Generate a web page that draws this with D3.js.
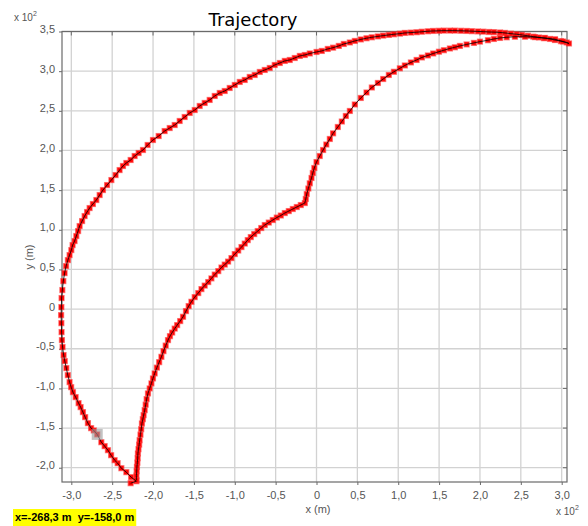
<!DOCTYPE html>
<html>
<head>
<meta charset="utf-8">
<script src="https://cdn.jsdelivr.net/npm/d3@7"></script>
<style>
  body { margin: 0; background: #fff; }
  svg { display: block; }
</style>
</head>
<body>
<div id="chart"></div>
<script>
// trajectory samples in metres
// outer arc: from the bottom start, up the left side and over the top to the right end
const outbound = [
  [-227.4,-219.5],[-220.4,-217.0],[-226.8,-211.9],[-232.7,-205.6],[-238.8,-200.6],[-243.3,-194.3],
  [-247.0,-190.5],[-251.3,-184.2],[-255.2,-177.9],[-259.2,-172.8],[-263.3,-167.8],[-268.3,-158.0],
  [-272.5,-153.0],[-275.8,-150.1],[-279.7,-143.8],[-283.1,-136.2],[-285.8,-129.9],[-288.6,-123.6],
  [-291.1,-118.6],[-294.7,-111.0],[-298.0,-104.7],[-300.2,-98.4],[-302.1,-92.1],[-304.3,-83.3],
  [-306.1,-74.4],[-308.0,-65.6],[-309.4,-58.0],[-310.7,-47.9],[-311.5,-39.1],[-311.9,-29.0],
  [-312.2,-17.7],[-312.5,-7.6],[-312.2,2.5],[-311.9,13.9],[-311.0,24.0],[-309.8,35.3],
  [-308.2,45.4],[-306.4,54.2],[-304.2,61.8],[-302.1,68.1],[-300.0,74.4],[-298.4,80.7],
  [-296.0,85.8],[-293.9,92.1],[-291.7,98.4],[-289.8,104.7],[-286.8,111.0],[-283.7,117.3],
  [-280.7,122.4],[-277.6,127.4],[-273.6,132.5],[-269.4,137.5],[-265.3,143.8],[-261.3,150.1],
  [-256.2,156.4],[-251.0,162.7],[-245.8,169.0],[-240.9,175.3],[-236.8,180.4],[-232.7,184.2],
  [-227.4,188.0],[-222.5,193.0],[-217.6,196.8],[-212.3,200.6],[-206.6,206.9],[-200.1,213.2],
  [-193.1,218.2],[-185.8,224.5],[-179.6,228.3],[-173.5,232.1],[-167.4,237.2],[-161.3,242.2],
  [-155.1,247.3],[-149.0,251.0],[-142.9,256.1],[-136.8,259.9],[-130.7,263.7],[-124.5,268.7],
  [-118.4,272.5],[-112.3,275.0],[-106.2,278.8],[-100.0,282.6],[-93.9,286.4],[-87.8,288.9],
  [-81.7,292.7],[-75.6,295.2],[-69.4,299.0],[-63.3,301.5],[-57.2,304.0],[-51.1,307.8],
  [-44.9,310.3],[-38.8,312.9],[-32.7,314.1],[-26.6,316.6],[-20.4,319.2],[-14.3,320.4],
  [-8.2,322.3],[0.0,324.2],[6.5,325.5],[13.8,328.0],[20.3,329.6],[27.3,331.8],
  [33.4,334.3],[40.8,336.2],[46.9,338.1],[54.2,340.0],[61.2,341.5],[67.7,342.7],
  [75.1,343.8],[81.6,344.8],[88.5,345.7],[94.7,346.5],[102.0,347.3],[108.1,348.2],
  [115.5,348.6],[122.5,349.1],[128.9,349.7],[136.3,350.3],[142.8,350.7],[149.8,350.9],
  [155.9,351.1],[163.2,351.1],[169.3,351.1],[176.7,350.9],[183.7,350.7],[190.2,350.4],
  [197.5,350.1],[204.0,349.8],[211.0,349.4],[217.1,349.2],[224.5,348.8],[230.6,348.2],
  [237.9,347.3],[244.9,346.5],[251.4,345.7],[258.7,344.6],[265.2,343.5],[272.2,342.5],
  [278.3,341.6],[285.7,340.6],[291.8,339.3],[299.1,337.8],[306.1,336.2],[308.9,334.9]
];

// inner arc: back from the right end, through the kink, down to the bottom
const inbound = [
  [301.6,337.4],[291.8,340.2],[279.6,341.9],[267.3,342.9],[255.1,343.4],[242.8,343.4],
  [232.7,342.7],[224.5,341.9],[217.1,340.6],[209.8,339.0],[200.0,337.2],[192.6,335.6],
  [183.7,333.7],[175.5,331.8],[169.3,330.1],[163.2,328.6],[155.9,326.4],[149.8,324.5],
  [142.8,322.3],[136.3,319.8],[128.9,317.3],[122.5,314.1],[115.5,311.0],[108.1,307.2],
  [102.0,303.6],[94.7,299.2],[88.5,295.2],[81.6,290.1],[75.1,285.1],[67.7,279.4],
  [61.2,273.1],[54.2,266.2],[46.9,258.0],[40.8,249.8],[35.9,243.5],[31.0,236.5],
  [26.1,229.6],[20.3,221.6],[16.3,214.5],[12.0,207.5],[8.1,200.6],[4.0,193.0],
  [0.0,185.4],[-2.7,177.9],[-4.5,171.6],[-6.1,165.3],[-8.2,158.6],[-10.0,152.0],
  [-11.9,145.1],[-13.1,138.8],[-14.3,133.7],[-19.2,131.2],[-24.1,128.7],[-29.0,126.2],
  [-33.9,123.6],[-38.8,121.1],[-43.7,118.0],[-48.6,115.4],[-53.5,112.3],[-58.4,109.1],
  [-63.3,106.0],[-67.6,102.2],[-71.9,98.4],[-76.2,94.6],[-80.4,90.8],[-84.1,87.0],
  [-87.8,82.6],[-91.8,78.2],[-95.8,73.8],[-100.0,69.4],[-104.1,64.3],[-108.2,59.9],
  [-112.3,56.1],[-116.3,52.4],[-120.2,47.9],[-124.5,43.5],[-128.6,38.7],[-132.5,34.1],
  [-136.8,29.6],[-140.8,25.2],[-144.7,20.2],[-149.0,15.1],[-153.1,9.2],[-156.4,3.8],
  [-159.7,-2.5],[-163.3,-9.7],[-166.8,-15.1],[-170.5,-20.2],[-173.5,-24.6],[-176.6,-29.6],
  [-179.3,-34.1],[-181.7,-39.1],[-184.5,-46.0],[-187.2,-53.0],[-189.8,-60.2],[-192.5,-66.9],
  [-195.3,-73.8],[-198.0,-81.1],[-200.1,-87.4],[-202.0,-93.7],[-204.1,-100.0],[-206.2,-106.3],
  [-207.8,-113.5],[-209.0,-120.5],[-210.2,-127.4],[-211.5,-133.7],[-212.5,-138.8],[-213.6,-144.2],
  [-214.5,-151.4],[-215.4,-158.3],[-216.4,-165.3],[-217.0,-170.9],[-217.8,-176.6],[-218.5,-182.0],
  [-218.8,-188.0],[-219.2,-193.6],[-219.7,-198.9],[-220.0,-204.4],[-220.3,-210.0],[-220.4,-215.7]
];

const cursorPoint = [-268.3, -158.0];
const xTickValues = [-300, -250, -200, -150, -100, -50, 0, 50, 100, 150, 200, 250, 300];
const yTickValues = [-200, -150, -100, -50, 0, 50, 100, 150, 200, 250, 300, 350];

const width = 588, height = 526;
const margin = { top: 31.5, right: 21, bottom: 44, left: 62 };

const svg = d3.select("#chart").append("svg")
  .attr("width", width)
  .attr("height", height);

const x = d3.scaleLinear()
  .domain([-311.4, 306.5])
  .range([margin.left, width - margin.right]);

const y = d3.scaleLinear()
  .domain([-218, 350])
  .range([height - margin.bottom, margin.top]);

// comma decimal, plain hyphen minus, values shown in units of 10^2 m
const loc = d3.formatLocale({ decimal: ",", thousands: ".", grouping: [3], currency: ["", ""], minus: "-" });
const f1 = loc.format(".1f");
const tickFmt = v => v === 0 ? "0" : f1(v / 100);

const tickFont = "'Liberation Sans', Arial, sans-serif";
const x0 = margin.left, x1 = width - margin.right;
const y0 = height - margin.bottom, y1 = margin.top;

// grid
svg.append("g")
  .selectAll("line")
  .data(xTickValues)
  .join("line")
  .attr("x1", d => x(d)).attr("x2", d => x(d))
  .attr("y1", y0).attr("y2", y1)
  .attr("stroke", "#d2d2d2")
  .attr("stroke-width", 1.3);

svg.append("g")
  .selectAll("line")
  .data(yTickValues)
  .join("line")
  .attr("x1", x0).attr("x2", x1)
  .attr("y1", d => y(d)).attr("y2", d => y(d))
  .attr("stroke", "#d2d2d2")
  .attr("stroke-width", 1.3);

// frame
svg.append("rect")
  .attr("x", x0).attr("y", y1)
  .attr("width", x1 - x0).attr("height", y0 - y1)
  .attr("fill", "none")
  .attr("stroke", "#6a6a6a")
  .attr("stroke-width", 1.2);

// axes
const xAxis = svg.append("g")
  .attr("transform", `translate(0,${y0})`)
  .call(d3.axisBottom(x).tickValues(xTickValues).tickFormat(tickFmt).tickSize(3).tickPadding(6));

const yAxis = svg.append("g")
  .attr("transform", `translate(${x0},0)`)
  .call(d3.axisLeft(y).tickValues(yTickValues).tickFormat(tickFmt).tickSize(3).tickPadding(4));

[xAxis, yAxis].forEach(a => {
  a.select(".domain").remove();
  a.selectAll(".tick line").attr("stroke", "#6a6a6a");
  a.selectAll(".tick text")
    .attr("fill", "#555")
    .style("font-family", tickFont)
    .style("font-size", "11px");
});
yAxis.selectAll(".tick text").attr("dy", "0.1em");

// small inward ticks on top and right border
svg.append("g")
  .selectAll("line")
  .data(xTickValues)
  .join("line")
  .attr("x1", d => x(d)).attr("x2", d => x(d))
  .attr("y1", y1).attr("y2", y1 + 4)
  .attr("stroke", "#6a6a6a");

svg.append("g")
  .selectAll("line")
  .data(yTickValues)
  .join("line")
  .attr("x1", x1 - 4).attr("x2", x1)
  .attr("y1", d => y(d)).attr("y2", d => y(d))
  .attr("stroke", "#6a6a6a");

// markers then connecting line
const points = outbound.concat(inbound);

svg.append("g")
  .selectAll("rect")
  .data(points)
  .join("rect")
  .attr("x", d => x(d[0]) - 2.4)
  .attr("y", d => y(d[1]) - 2.4)
  .attr("width", 4.8)
  .attr("height", 4.8)
  .attr("fill", "#ff0000")
  .attr("stroke", "#ff3030")
  .attr("stroke-opacity", 0.6)
  .attr("stroke-width", 1.4);

const line = d3.line()
  .x(d => x(d[0]))
  .y(d => y(d[1]));

svg.append("path")
  .datum(points)
  .attr("fill", "none")
  .attr("stroke", "#000")
  .attr("stroke-width", 0.8)
  .attr("d", line);

// cursor highlight
svg.append("rect")
  .attr("x", x(cursorPoint[0]) - 5.5)
  .attr("y", y(cursorPoint[1]) - 5.5)
  .attr("width", 11)
  .attr("height", 11)
  .attr("fill", "#9a9a9a")
  .attr("fill-opacity", 0.6);

// title and labels
svg.append("text")
  .attr("x", 253).attr("y", 26)
  .attr("text-anchor", "middle")
  .style("font-family", "'DejaVu Sans', sans-serif")
  .style("font-size", "18px")
  .attr("fill", "#000")
  .text("Trajectory");

svg.append("text")
  .attr("transform", "translate(33,257) rotate(-90)")
  .attr("text-anchor", "middle")
  .style("font-family", tickFont)
  .style("font-size", "11px")
  .attr("fill", "#555")
  .text("y (m)");

svg.append("text")
  .attr("x", 318).attr("y", 513)
  .attr("text-anchor", "middle")
  .style("font-family", tickFont)
  .style("font-size", "11px")
  .attr("fill", "#555")
  .text("x (m)");

const yMult = svg.append("text")
  .attr("x", 14).attr("y", 21)
  .style("font-family", tickFont)
  .style("font-size", "10px")
  .attr("fill", "#555");
yMult.append("tspan").text("x 10");
yMult.append("tspan").attr("dy", -5).style("font-size", "7px").text("2");

const xMult = svg.append("text")
  .attr("x", 556).attr("y", 515)
  .style("font-family", tickFont)
  .style("font-size", "10px")
  .attr("fill", "#555");
xMult.append("tspan").text("x 10");
xMult.append("tspan").attr("dy", -5).style("font-size", "7px").text("2");

// cursor readout
const fmtM = loc.format(".1f");
const readout = svg.append("g");
const bg = readout.append("rect").attr("fill", "#ffff00");
const rt = readout.append("text")
  .attr("x", 15).attr("y", 521)
  .style("font-family", tickFont)
  .style("font-size", "11px")
  .style("font-weight", "bold")
  .style("white-space", "pre")
  .attr("fill", "#000")
  .text(`x=${fmtM(cursorPoint[0])} m  y=${fmtM(cursorPoint[1])} m`);
const tw = rt.node().getComputedTextLength();
bg.attr("x", 13).attr("y", 509).attr("width", tw + 4).attr("height", 17);
</script>
</body>
</html>
